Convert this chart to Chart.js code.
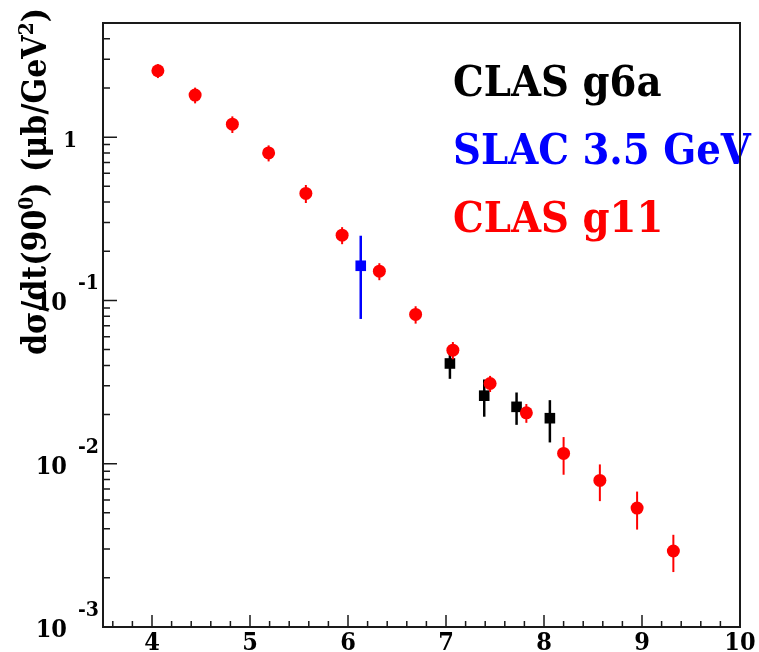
<!DOCTYPE html>
<html lang="en">
<head>
<meta charset="UTF-8">
<title>dsigma/dt at 90 degrees</title>
<script src="https://cdn.jsdelivr.net/npm/chart.js"></script>
<style>
  html, body { margin: 0; padding: 0; background: #fff; }
</style>
</head>
<body>
<canvas id="xsec" width="759" height="652"></canvas>
<script>
// photon energy (GeV), cross section and error per data set
const g11E   = [4.06, 4.44, 4.82, 5.19, 5.57, 5.94, 6.32, 6.69, 7.07, 7.45, 7.82, 8.20, 8.57, 8.95, 9.32];
const g11Val = [2.55, 1.81, 1.20, 0.80, 0.452, 0.251, 0.151, 0.0821, 0.0496, 0.0310, 0.0205, 0.01156, 0.0079, 0.00535, 0.00292];
const g11Err = [0.25, 0.20, 0.14, 0.09, 0.057, 0.030, 0.018, 0.010, 0.006, 0.0035, 0.0027, 0.0030, 0.0020, 0.0014, 0.00075];

const slacE   = [6.13];
const slacVal = [0.163];
const slacErr = [0.086];

const g6aE   = [7.04, 7.39, 7.72, 8.06];
const g6aVal = [0.0411, 0.0261, 0.0223, 0.0190];
const g6aErr = [0.0080, 0.0067, 0.0050, 0.0055];

// axis ticks
const xLabels = [4, 5, 6, 7, 8, 9, 10];
const yDecades = [-3, -2, -1, 0];
const yMinorMult = [2, 3, 4, 5, 6, 7, 8, 9];

const legendRows = [
  { text: 'CLAS g6a', color: '#000000' },
  { text: 'SLAC 3.5 GeV', color: '#0000ff' },
  { text: 'CLAS g11', color: '#ff0000' }
];

const SERIF = '"DejaVu Serif Condensed", "DejaVu Serif", "Liberation Serif", serif';

function pts(xs, ys, es) {
  return xs.map((x, i) => ({ x: x, y: ys[i], err: es[i] }));
}

// error bars for each dataset, drawn right before its markers
const errorBars = {
  id: 'errorBars',
  beforeDatasetDraw(chart, args) {
    const ds = chart.data.datasets[args.index];
    const xs = chart.scales.x, ys = chart.scales.y;
    const ctx = chart.ctx;
    ctx.save();
    ctx.strokeStyle = ds.backgroundColor;
    ctx.lineWidth = ds.errWidth;
    ds.data.forEach(p => {
      const px = xs.getPixelForValue(p.x);
      const top = ys.getPixelForValue(p.y + p.err);
      const bot = ys.getPixelForValue(Math.max(p.y - p.err, ys.min));
      ctx.beginPath();
      ctx.moveTo(px, top);
      ctx.lineTo(px, bot);
      ctx.stroke();
    });
    ctx.restore();
  }
};

// writes a run of text pieces, some raised as superscripts
function richText(ctx, parts, x, y, size, draw) {
  let cx = x;
  parts.forEach(p => {
    ctx.font = 'bold ' + (p.sup ? size * 0.62 : size) + 'px ' + SERIF;
    if (draw) ctx.fillText(p.t, cx, p.sup ? y - size * 0.38 : y);
    cx += ctx.measureText(p.t).width;
  });
  return cx - x;
}

const titleParts = [
  { t: 'd\u03c3/dt(90' },
  { t: '0', sup: true },
  { t: ') (\u03bcb/GeV' },
  { t: '2', sup: true },
  { t: ')' }
];

const axesFrame = {
  id: 'axesFrame',
  afterDraw(chart) {
    const ctx = chart.ctx;
    const a = chart.chartArea;
    const xs = chart.scales.x, ys = chart.scales.y;
    ctx.save();

    // legend text
    ctx.textAlign = 'left';
    ctx.textBaseline = 'alphabetic';
    ctx.font = 'bold 43px ' + SERIF;
    legendRows.forEach((r, i) => {
      ctx.fillStyle = r.color;
      ctx.fillText(r.text, 453, 96 + i * 68);
    });

    // frame
    ctx.strokeStyle = '#1a1a1a';
    ctx.lineWidth = 2;
    ctx.strokeRect(a.left, a.top, a.right - a.left, a.bottom - a.top);

    // x ticks, pointing into the plot
    ctx.lineWidth = 1.5;
    ctx.beginPath();
    for (let i = 18; i <= 50; i++) {
      const v = i / 5;
      const px = xs.getPixelForValue(v);
      const len = (i % 5 === 0) ? 12 : 6;
      ctx.moveTo(px, a.bottom);
      ctx.lineTo(px, a.bottom - len);
    }
    // y ticks
    yDecades.forEach(d => {
      const base = Math.pow(10, d);
      const py = ys.getPixelForValue(base);
      ctx.moveTo(a.left, py);
      ctx.lineTo(a.left + 14, py);
      yMinorMult.forEach(m => {
        const v = m * base;
        if (v >= ys.max) return;
        const q = ys.getPixelForValue(v);
        ctx.moveTo(a.left, q);
        ctx.lineTo(a.left + 7, q);
      });
    });
    ctx.stroke();

    // x tick labels
    ctx.fillStyle = '#000';
    ctx.textAlign = 'center';
    ctx.font = 'bold 25px ' + SERIF;
    xLabels.forEach(v => {
      ctx.fillText(String(v), xs.getPixelForValue(v), 650);
    });

    // y tick labels
    yDecades.forEach(d => {
      const py = ys.getPixelForValue(Math.pow(10, d));
      if (d === 0) {
        ctx.textAlign = 'right';
        ctx.font = 'bold 22px ' + SERIF;
        ctx.fillText('1', 77, py + 10);
        return;
      }
      ctx.textAlign = 'right';
      ctx.font = 'bold 25px ' + SERIF;
      ctx.fillText('10', 67, py + 10);
      ctx.textAlign = 'left';
      ctx.font = 'bold 21px ' + SERIF;
      ctx.fillText(String(d), 78, py - 11);
    });

    // y axis title, sized to run from y=355 up to y=8
    ctx.save();
    ctx.translate(46, 355);
    ctx.rotate(-Math.PI / 2);
    ctx.textAlign = 'left';
    const w = richText(ctx, titleParts, 0, 0, 34, false);
    richText(ctx, titleParts, 0, 0, 34 * 347 / w, true);
    ctx.restore();

    ctx.restore();
  }
};

new Chart(document.getElementById('xsec'), {
  type: 'scatter',
  data: {
    datasets: [
      {
        label: 'CLAS g11',
        data: pts(g11E, g11Val, g11Err),
        backgroundColor: '#ff0000',
        borderWidth: 0,
        pointStyle: 'circle',
        pointRadius: 6.5,
        errWidth: 2
      },
      {
        label: 'SLAC 3.5 GeV',
        data: pts(slacE, slacVal, slacErr),
        backgroundColor: '#0000ff',
        borderWidth: 0,
        pointStyle: 'rect',
        pointRadius: 7.5,
        errWidth: 2.5
      },
      {
        label: 'CLAS g6a',
        data: pts(g6aE, g6aVal, g6aErr),
        backgroundColor: '#000000',
        borderWidth: 0,
        pointStyle: 'rect',
        pointRadius: 7.5,
        errWidth: 2.5
      }
    ]
  },
  options: {
    responsive: false,
    devicePixelRatio: 1,
    animation: false,
    layout: { padding: { left: 103, top: 23, right: 19, bottom: 25 } },
    scales: {
      x: { type: 'linear', min: 3.5, max: 10, display: false },
      y: { type: 'logarithmic', min: 0.001, max: 5, display: false }
    },
    plugins: {
      legend: { display: false },
      tooltip: { enabled: false }
    }
  },
  plugins: [errorBars, axesFrame]
});
</script>
</body>
</html>
